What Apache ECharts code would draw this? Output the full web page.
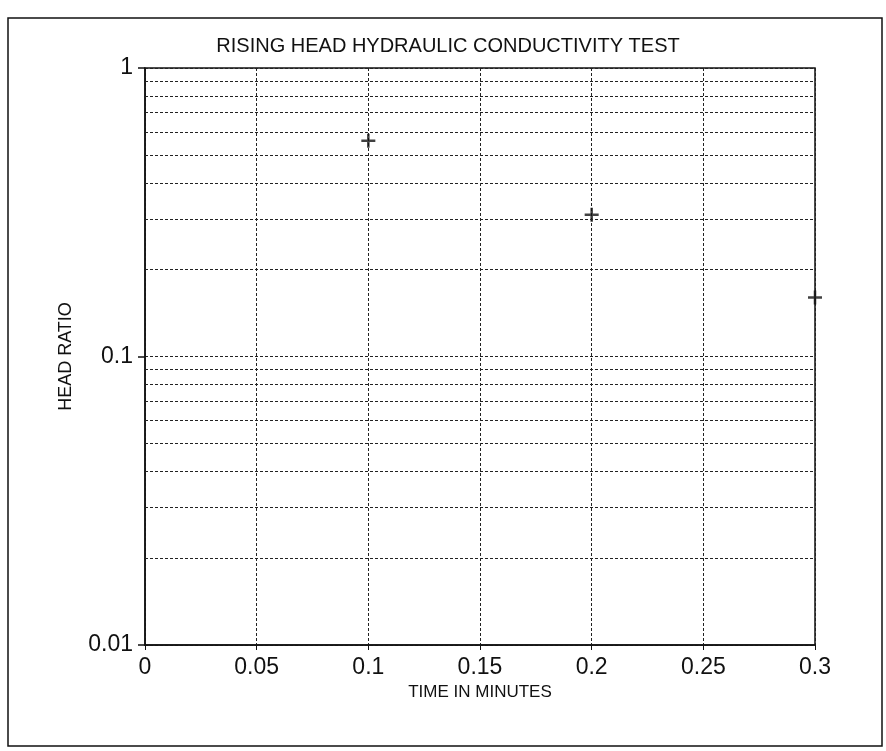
<!DOCTYPE html>
<html>
<head>
<meta charset="utf-8">
<script src="https://cdn.jsdelivr.net/npm/echarts@6/dist/echarts.min.js"></script>
<style>html,body{margin:0;padding:0;background:#fff;}#c{width:886px;height:751px;}</style>
</head>
<body>
<div id="c"></div>
<script>
var timeMinutes = [0.1, 0.2, 0.3];
var headRatio = [0.56, 0.31, 0.16];
var minorGridValues = [0.02,0.03,0.04,0.05,0.06,0.07,0.08,0.09,0.2,0.3,0.4,0.5,0.6,0.7,0.8,0.9];
var titleText = 'RISING HEAD HYDRAULIC CONDUCTIVITY TEST';
var xName = 'TIME IN MINUTES';
var yName = 'HEAD RATIO';

var chart = echarts.init(document.getElementById('c'), null, {renderer: 'canvas'});
var fontFam = 'Liberation Sans, Arial, sans-serif';
var gridLine = {color: '#222', width: 1, type: [3, 2]};
var pts = timeMinutes.map(function (t, i) { return [t, headRatio[i]]; });

chart.setOption({
  backgroundColor: '#fff',
  animation: false,
  title: {
    text: titleText, left: 443, top: 31, textAlign: 'center',
    textStyle: {fontFamily: fontFam, fontSize: 20, fontWeight: 'normal', color: '#111'}
  },
  graphic: [{
    type: 'rect', shape: {x: 8, y: 18, width: 874, height: 728},
    style: {fill: 'none', stroke: '#111', lineWidth: 1.5}, silent: true
  }],
  grid: {left: 145, right: 71, top: 68, bottom: 106, show: true, borderColor: '#111', borderWidth: 1.5, backgroundColor: 'transparent'},
  xAxis: {
    type: 'value', min: 0, max: 0.3, interval: 0.05,
    name: xName, nameLocation: 'middle', nameGap: 38,
    nameTextStyle: {fontFamily: fontFam, fontSize: 17, color: '#111'},
    axisLine: {lineStyle: {color: '#111', width: 1.5}},
    axisTick: {show: true, inside: false, length: 5, lineStyle: {color: '#111'}},
    axisLabel: {fontFamily: fontFam, fontSize: 23, color: '#111', margin: 11,
      formatter: function (v) { return String(+v.toFixed(2)); }},
    splitLine: {show: true, lineStyle: gridLine}
  },
  yAxis: {
    type: 'log', logBase: 10, min: 0.01, max: 1,
    name: yName, nameLocation: 'middle', nameGap: 70, nameRotate: 90,
    nameTextStyle: {fontFamily: fontFam, fontSize: 18, color: '#111'},
    axisLine: {lineStyle: {color: '#111', width: 1.5}},
    axisTick: {show: true, inside: false, length: 7, lineStyle: {color: '#111', width: 1.5}},
    axisLabel: {fontFamily: fontFam, fontSize: 23, color: '#111', margin: 12,
      formatter: function (v) { return String(+v.toPrecision(2)); }},
    splitLine: {show: true, lineStyle: gridLine}
  },
  series: [{
    type: 'scatter',
    data: pts,
    symbol: 'path://M4.1,0h1.8v4.1h4.1v1.8h-4.1v4.1h-1.8v-4.1h-4.1v-1.8h4.1z',
    symbolSize: 14,
    itemStyle: {color: '#111'},
    markLine: {
      silent: true, symbol: ['none', 'none'],
      label: {show: false},
      lineStyle: gridLine,
      data: minorGridValues.map(function (v) { return {yAxis: v}; })
    }
  }]
});
</script>
</body>
</html>
